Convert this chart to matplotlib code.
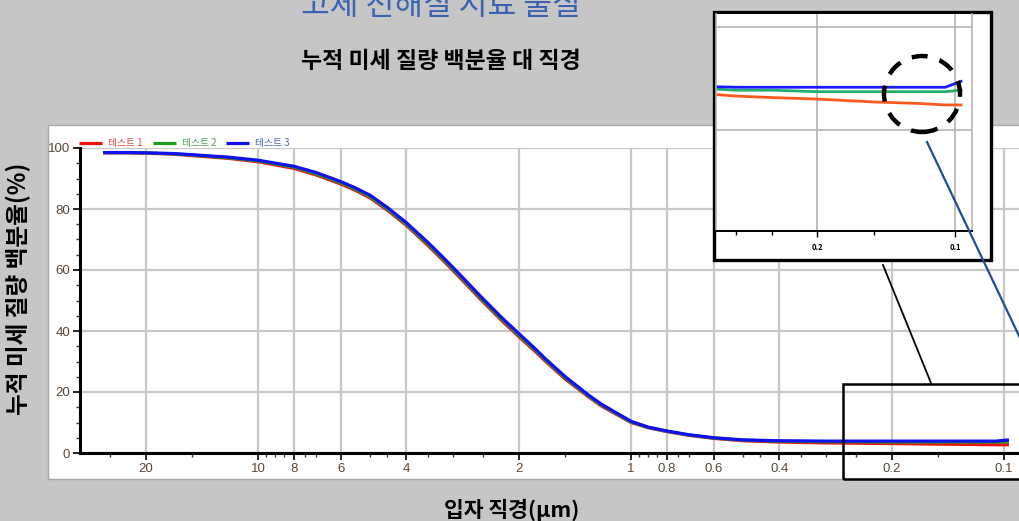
import matplotlib
matplotlib.use("Agg")
import matplotlib.pyplot as plt
from matplotlib.patches import Rectangle, Ellipse
from matplotlib.lines import Line2D

plt.rcParams["font.family"] = ["Noto Sans CJK KR", "DejaVu Sans"]

W, H = 1019, 521

# particle size (um) and cumulative undersize mass percent for each run
sizes = [26, 22, 20, 17, 15, 12, 10, 8, 7, 6, 5.5, 5, 4.5, 4, 3.5, 3.2, 3, 2.8, 2.5,
         2.2, 2, 1.8, 1.7, 1.5, 1.3, 1.2, 1.0, 0.9, 0.8, 0.7, 0.6, 0.5, 0.4, 0.3, 0.25,
         0.2, 0.15, 0.12, 0.105, 0.097]
test1 = [98.4, 98.4, 98.3, 98.0, 97.5, 96.6, 95.5, 93.3, 91.2, 88.2, 86.2, 83.6, 79.6,
         74.6, 68.0, 63.3, 59.8, 56.0, 49.7, 42.9, 38.2, 33.1, 30.2, 24.2, 18.4, 15.4,
         10.0, 8.3, 7.0, 5.8, 4.8, 4.0, 3.6, 3.3, 3.2, 3.1, 2.9, 2.8, 2.7, 2.7]
test2 = [98.5, 98.5, 98.4, 98.1, 97.7, 96.8, 95.8, 93.7, 91.6, 88.6, 86.6, 84.0, 80.0,
         75.0, 68.5, 63.8, 60.3, 56.5, 50.2, 43.4, 38.7, 33.6, 30.6, 24.6, 18.7, 15.7,
         10.2, 8.4, 7.1, 5.9, 4.9, 4.2, 3.9, 3.7, 3.7, 3.6, 3.6, 3.6, 3.6, 3.7]
test3 = [98.5, 98.5, 98.4, 98.2, 97.8, 97.0, 96.0, 94.0, 92.0, 89.0, 87.0, 84.5, 80.5,
         75.5, 69.0, 64.3, 60.8, 57.0, 50.7, 43.9, 39.2, 34.0, 31.0, 25.0, 19.0, 16.0,
         10.4, 8.5, 7.2, 6.0, 5.0, 4.3, 4.0, 3.9, 3.9, 3.9, 3.9, 3.9, 3.9, 4.3]
series_labels = ["테스트 1", "테스트 2", "테스트 3"]

major_ticks = [20, 10, 8, 6, 4, 2, 1, 0.8, 0.6, 0.4, 0.2, 0.1]
major_labels = ["20", "10", "8", "6", "4", "2", "1", "0.8", "0.6", "0.4", "0.2", "0.1"]
minor_ticks = [25, 15, 9.5, 9, 8.5, 7.5, 7, 5, 4.5, 3.5, 3, 2.5, 1.5, 0.95, 0.9, 0.85,
               0.75, 0.7, 0.5, 0.45, 0.35, 0.3, 0.25, 0.15]
y_ticks = [0, 20, 40, 60, 80, 100]
inset_ticks = [0.2, 0.1]
inset_labels = ["0.2", "0.1"]
inset_minor = [0.3, 0.25, 0.15]

LINE_COLORS = ["#f01010", "#1e9e1e", "#1010f0"]
TEXT_COLORS = ["#e04848", "#4aa04a", "#4866c0"]
INSET_COLORS = ["#ff5a1e", "#22b06e", "#1a1aff"]
TICK_COLOR = "#5b4636"


def box(x0, y0, x1, y1):
    # pixel box (top-left origin) -> figure fraction [left, bottom, width, height]
    return [x0 / W, 1 - y1 / H, (x1 - x0) / W, (y1 - y0) / H]


def pt(x, y):
    return x / W, 1 - y / H


fig = plt.figure(figsize=(W / 100, H / 100), dpi=100)
fig.patch.set_facecolor("#c6c6c6")

# white chart panel
fig.add_artist(Rectangle(pt(48, 479), 1000 / W, 354 / H, facecolor="white",
                         edgecolor="#a8a8a8", lw=1, zorder=-1))

ax = fig.add_axes(box(80, 148, 1030, 453))
ax.set_facecolor("white")
ax.set_xscale("log")
for vals, c, lab in zip([test1, test2, test3], LINE_COLORS, series_labels):
    ax.plot(sizes, vals, color=c, lw=2.3, label=lab, solid_capstyle="butt",
            solid_joinstyle="round")
ax.set_xlim(30, 0.0852)
ax.set_ylim(0, 100)
ax.set_xticks(major_ticks)
ax.set_xticklabels(major_labels)
ax.set_xticks(minor_ticks, minor=True)
ax.set_xticklabels([""] * len(minor_ticks), minor=True)
ax.set_yticks(y_ticks)
ax.set_yticks(range(0, 101, 5), minor=True)
ax.grid(True, which="major", color="#c8c8c8", lw=1.6)
ax.set_axisbelow(True)
for s in ["top", "right"]:
    ax.spines[s].set_visible(False)
for s in ["left", "bottom"]:
    ax.spines[s].set_linewidth(2.2)
    ax.spines[s].set_color("black")
ax.tick_params(which="major", length=5, width=1.2, color="black", labelcolor=TICK_COLOR,
               labelsize=9.5, labelfontfamily="Liberation Sans", pad=2)
ax.tick_params(which="minor", length=3, width=1, color="#333333")

leg = ax.legend(loc="center left", bbox_to_anchor=pt(79, 143), bbox_transform=fig.transFigure,
                ncol=3, frameon=False, fontsize=7, handlelength=2.4, handletextpad=0.6,
                columnspacing=1.0, borderpad=0, borderaxespad=0, labelcolor=TEXT_COLORS)

# rectangle marking the magnified region
fig.add_artist(Rectangle(pt(843, 479), 200 / W, 95 / H, fill=False, edgecolor="black",
                         lw=1.8, zorder=2))
fig.add_artist(Line2D([883 / W, 931 / W], [1 - 265 / H, 1 - 383 / H], color="black",
                      lw=1.3, zorder=2))

# magnified view of the tail
fig.add_artist(Rectangle(pt(714, 260), 277 / W, 248 / H, facecolor="white",
                         edgecolor="black", lw=2.4, zorder=2))
axi = fig.add_axes(box(716, 14, 972, 231), zorder=3)
axi.set_facecolor("white")
axi.set_xscale("log")
for vals, c in zip([test1, test2, test3], INSET_COLORS):
    axi.plot(sizes, vals, color=c, lw=2.0)
axi.set_xlim(0.332, 0.0918)
axi.set_ylim(-5.87, 8.88)
axi.set_xticks(inset_ticks)
axi.set_xticklabels(inset_labels)
axi.set_xticks(inset_minor, minor=True)
axi.set_xticklabels([""] * len(inset_minor), minor=True)
axi.set_yticks([1, 8])
axi.set_yticklabels([])
axi.tick_params(axis="y", length=0)
axi.tick_params(axis="x", which="major", length=4, width=1, labelsize=5.5, pad=5)
axi.tick_params(axis="x", which="minor", length=3, width=1)
axi.grid(True, which="major", color="#b4b4b4", lw=1.2)
axi.spines["top"].set_visible(False)
for s in ["left", "right"]:
    axi.spines[s].set_color("#b4b4b4")
    axi.spines[s].set_linewidth(1.2)
axi.spines["bottom"].set_linewidth(1.4)
for lab in axi.get_xticklabels():
    lab.set_fontweight("bold")

fig.add_artist(Ellipse(pt(922, 94), 76 / W, 76 / H, fill=False, edgecolor="black",
                       lw=3.2, linestyle=(0, (3.6, 2.8)), zorder=5))
fig.add_artist(Line2D([927 / W, 1030 / W], [1 - 142 / H, 1 - 359 / H], color="#1f4e96",
                      lw=1.6, zorder=5))

# titles and axis labels
fig.text(*pt(441, 6), "고체 전해질 시료 물질", ha="center", va="center", fontsize=22.5,
         color="#3a64b0")
fig.text(*pt(441, 61), "누적 미세 질량 백분율 대 직경", ha="center", va="center",
         fontsize=16.5, fontweight="bold", color="black")
fig.text(*pt(18, 289), "누적 미세 질량 백분율(%)", ha="center", va="center", rotation=90,
         fontsize=17, fontweight="bold", color="black")
fig.text(*pt(512, 510), "입자 직경(μm)", ha="center", va="center", fontsize=15.5,
         fontweight="bold", color="black")

fig.savefig("out.png", dpi=100, facecolor=fig.get_facecolor())
